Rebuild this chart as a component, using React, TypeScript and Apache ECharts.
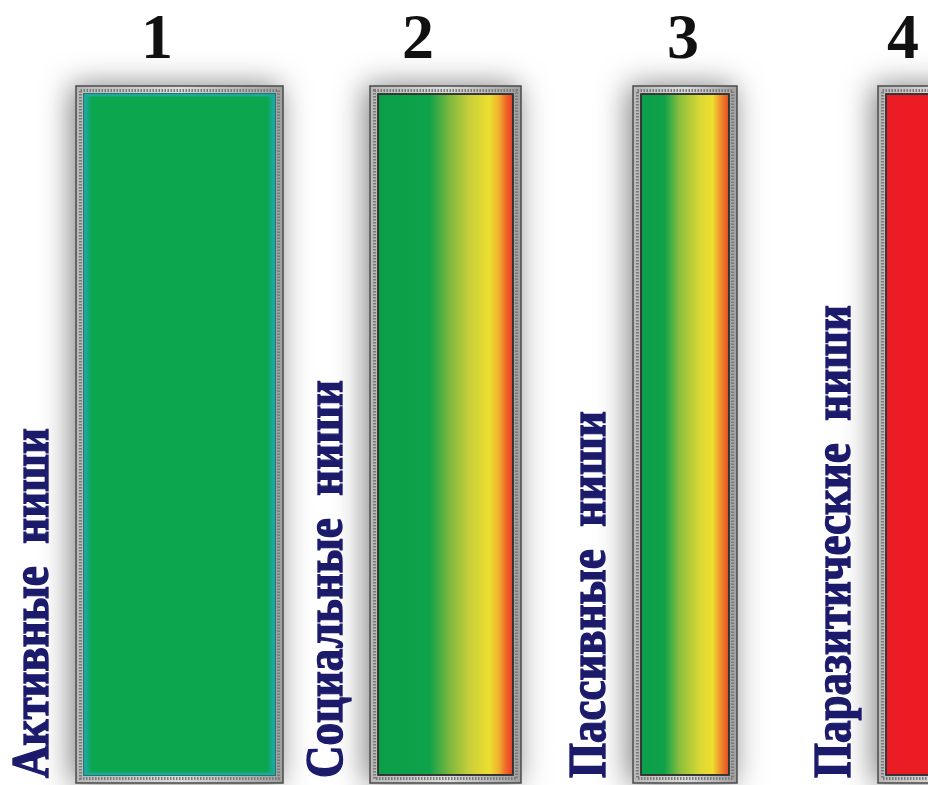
import React, { useEffect, useRef } from "react";
import * as echarts from "echarts";

// Niches (left to right)
const numbers = ["1", "2", "3", "4"];
const niches = ["Активные  ниши", "Социальные  ниши", "Пассивные  ниши", "Паразитические  ниши"];
// horizontal extent of each column on a 0..928 value axis
const barStart = [76, 370, 633, 878];
const barEnd = [283, 521, 737, 1000];
// column height (all full scale)
const barValue = [100, 100, 100, 100];
// centre of the number heading over each column
const numberX = [157, 418, 683, 903];
// colour stops across each column (fraction, colour)
const colorStops: [number, string][][] = [
  [[0, "#1aa99c"], [0.04, "#0ba64e"], [0.96, "#0ba64e"], [1, "#1aa99c"]],
  [[0, "#0b9f4a"], [0.38, "#0ea24a"], [0.53, "#7cb83c"], [0.68, "#c8cf3a"], [0.83, "#ecdf2f"], [0.9, "#f0b030"], [0.95, "#ef6e25"], [1, "#e8402a"]],
  [[0, "#0b9f4a"], [0.26, "#0ea24a"], [0.44, "#8cbf3c"], [0.68, "#dcd834"], [0.82, "#eede2e"], [0.89, "#f0a030"], [1, "#e85025"]],
  [[0, "#ec1c24"], [1, "#ec1c24"]],
];

const SERIF = "'Liberation Serif', 'Times New Roman', 'DejaVu Serif', serif";

export default function App() {
  const ref = useRef<HTMLDivElement>(null);
  useEffect(() => {
    if (!ref.current) return;
    const chart = echarts.init(ref.current, undefined, { renderer: "svg" });
    const data = numbers.map((n, i) => [barStart[i], barEnd[i], barValue[i], i, numberX[i]]);
    const FRAME = 9;
    chart.setOption({
      animation: false,
      backgroundColor: "#ffffff",
      grid: { left: 0, right: 0, top: 86, bottom: 1 },
      xAxis: { type: "value", min: 0, max: 928, show: false },
      yAxis: { type: "value", min: 0, max: 100, show: false },
      series: [
        {
          type: "custom",
          clip: false,
          data,
          renderItem: (params: any, api: any) => {
            const i = api.value(3);
            const p0 = api.coord([api.value(0), api.value(2)]);
            const p1 = api.coord([api.value(1), 0]);
            const nx = api.coord([api.value(4), 0])[0];
            const x0 = p0[0], y0 = p0[1], x1 = p1[0], y1 = p1[1] - 1;
            const w = x1 - x0, h = y1 - y0;
            const stops = colorStops[i].map(([o, c]) => ({ offset: o, color: c }));
            const innerW = w - 2 * FRAME, innerH = h - 2 * FRAME;
            return {
              type: "group",
              children: [
                {
                  type: "rect",
                  shape: { x: x0, y: y0, width: w, height: h },
                  style: {
                    fill: new echarts.graphic.LinearGradient(0, 0, 1, 0, [
                      { offset: 0, color: "#b8b8b8" },
                      { offset: 0.5, color: "#dcdcdc" },
                      { offset: 1, color: "#a0a0a0" },
                    ]),
                    stroke: "#4a4a4a",
                    lineWidth: 1.5,
                    shadowBlur: 30,
                    shadowColor: "rgba(0,0,0,0.5)",
                    shadowOffsetX: -4,
                    shadowOffsetY: 0,
                  },
                },
                {
                  type: "rect",
                  shape: { x: x0 + FRAME / 2, y: y0 + FRAME / 2, width: w - FRAME, height: h - FRAME },
                  style: { fill: "none", stroke: "#7a7a7a", lineWidth: 3, lineDash: [1.5, 1.5] },
                },
                {
                  type: "rect",
                  shape: { x: x0 + FRAME - 1.5, y: y0 + FRAME - 1.5, width: innerW + 3, height: innerH + 3 },
                  style: { fill: "#333333", stroke: "#3a3a3a", lineWidth: 1 },
                },
                {
                  type: "rect",
                  shape: { x: x0 + FRAME, y: y0 + FRAME, width: innerW, height: innerH },
                  style: {
                    fill: new echarts.graphic.LinearGradient(0, 0, 1, 0, stops),
                    stroke: i === 0 ? "#1aa99c" : null,
                    lineWidth: i === 0 ? 3 : 0,
                  },
                },
                {
                  type: "text",
                  x: nx,
                  y: 4,
                  style: {
                    text: numbers[i],
                    fontFamily: SERIF,
                    fontWeight: "bold",
                    fontSize: 64,
                    fill: "#111111",
                    textAlign: "center",
                    align: "center",
                    textVerticalAlign: "top",
                    verticalAlign: "top",
                    shadowBlur: 6,
                    shadowColor: "rgba(0,0,0,0.45)",
                    shadowOffsetX: 2,
                    shadowOffsetY: 2,
                  },
                },
                {
                  type: "text",
                  x: x0 - 20,
                  y: y1 - 5,
                  rotation: Math.PI / 2,
                  scaleY: 1.15,
                  style: {
                    text: niches[i],
                    fontFamily: SERIF,
                    fontWeight: "bold",
                    fontSize: 45,
                    fill: "#1b1a6b",
                    stroke: "#1b1a6b",
                    lineWidth: 1.2,
                    textAlign: "left",
                    align: "left",
                    textVerticalAlign: "bottom",
                    verticalAlign: "bottom",
                    shadowBlur: 3,
                    shadowColor: "rgba(0,0,60,0.3)",
                    shadowOffsetX: 1,
                    shadowOffsetY: 1,
                  },
                },
              ],
            };
          },
        },
      ],
    });
    return () => chart.dispose();
  }, []);
  return (
    <div
      ref={ref}
      style={{ position: "absolute", left: 0, top: 0, width: 928, height: 785, background: "#fff" }}
    />
  );
}
